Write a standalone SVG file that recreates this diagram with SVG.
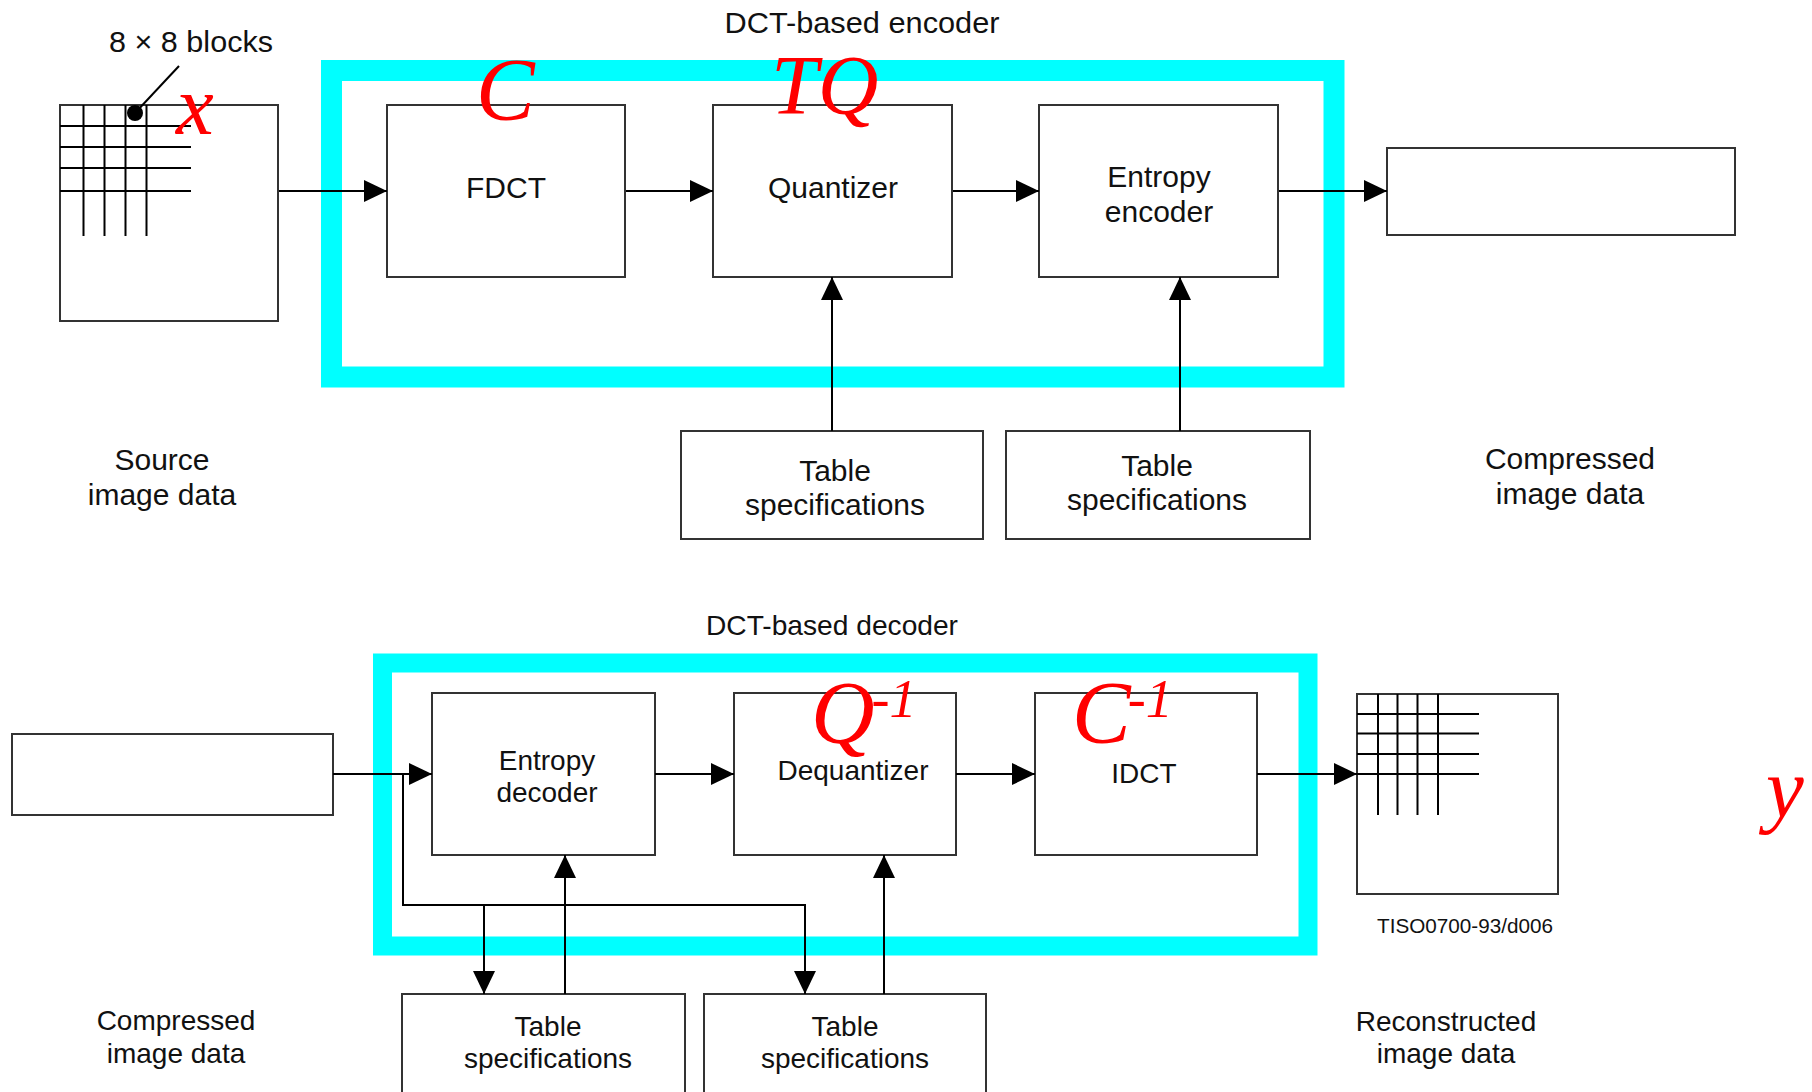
<svg xmlns="http://www.w3.org/2000/svg" width="1812" height="1092" viewBox="0 0 1812 1092">
<defs>
<marker id="ah" markerUnits="userSpaceOnUse" markerWidth="24" markerHeight="22" refX="23" refY="11" orient="auto">
<path d="M0,0 L23,11 L0,22 z" fill="#000"/>
</marker>
<style>
.box{fill:#fff;stroke:#333;stroke-width:2}
.grid{stroke:#000;stroke-width:2;fill:none}
.t{font-family:"Liberation Sans",Arial,sans-serif;fill:#111;text-anchor:middle}
.e{font-size:30px}
.d{font-size:28px}
.red{font-family:"Liberation Serif","Times New Roman",serif;font-style:italic;fill:#ff0000}
.frame{fill:none;stroke:#00ffff}
.conn{stroke:#000;stroke-width:2;fill:none}
</style>
</defs>
<rect width="1812" height="1092" fill="#fff"/>

<g id="encoder-frame">
<rect class="frame" x="331.5" y="70.5" width="1002.5" height="306.5" stroke-width="21"/>
<text class="t e" x="862" y="33" textLength="275" lengthAdjust="spacingAndGlyphs">DCT-based encoder</text>
</g>
<g id="decoder-frame">
<rect class="frame" x="382.5" y="663" width="925.5" height="283" stroke-width="19"/>
<text class="t d" x="832" y="635" textLength="252" lengthAdjust="spacingAndGlyphs">DCT-based decoder</text>
</g>

<g id="source">
<rect class="box" x="60" y="105" width="218" height="216"/>
<path class="grid" d="M83.5,105V236M104.5,105V236M125.5,105V236M146.5,105V236M60,126H191M60,147H191M60,168H191M60,191H191"/>
<circle cx="135" cy="113" r="8" fill="#000"/>
<text class="t e" x="191" y="52" textLength="164" lengthAdjust="spacingAndGlyphs">8 × 8 blocks</text>
<text class="t e" x="162" y="470">Source</text>
<text class="t e" x="162" y="505">image data</text>
<text class="red" x="176" y="134" font-size="85">x</text>
</g>

<g id="fdct">
<rect class="box" x="387" y="105" width="238" height="172"/>
<text class="t e" x="506" y="198">FDCT</text>
<text class="red" x="476" y="119" font-size="88">C</text>
</g>

<g id="quantizer">
<rect class="box" x="713" y="105" width="239" height="172"/>
<text class="t e" x="833" y="198">Quantizer</text>
<text class="red" x="771" y="114" font-size="84">TQ</text>
</g>

<g id="entropy-encoder">
<rect class="box" x="1039" y="105" width="239" height="172"/>
<text class="t e" x="1159" y="187">Entropy</text>
<text class="t e" x="1159" y="222">encoder</text>
</g>

<g id="compressed-out">
<rect class="box" x="1387" y="148" width="348" height="87"/>
<text class="t e" x="1570" y="469">Compressed</text>
<text class="t e" x="1570" y="504">image data</text>
</g>

<g id="enc-table1">
<rect class="box" x="681" y="431" width="302" height="108"/>
<text class="t e" x="835" y="481">Table</text>
<text class="t e" x="835" y="515">specifications</text>
</g>

<g id="enc-table2">
<rect class="box" x="1006" y="431" width="304" height="108"/>
<text class="t e" x="1157" y="476">Table</text>
<text class="t e" x="1157" y="510">specifications</text>
</g>

<g id="compressed-in">
<rect class="box" x="12" y="734" width="321" height="81"/>
<text class="t d" x="176" y="1030">Compressed</text>
<text class="t d" x="176" y="1063">image data</text>
</g>

<g id="entropy-decoder">
<rect class="box" x="432" y="693" width="223" height="162"/>
<text class="t d" x="547" y="770">Entropy</text>
<text class="t d" x="547" y="802">decoder</text>
</g>

<g id="dequantizer">
<rect class="box" x="734" y="693" width="222" height="162"/>
<text class="t d" x="853" y="780">Dequantizer</text>
<text class="red" x="811" y="742" font-size="88">Q<tspan font-size="54" dx="-3" dy="-25">-1</tspan></text>
</g>

<g id="idct">
<rect class="box" x="1035" y="693" width="222" height="162"/>
<text class="t d" x="1144" y="783">IDCT</text>
<text class="red" x="1072" y="742" font-size="88">C<tspan font-size="54" dx="-3" dy="-25">-1</tspan></text>
</g>

<g id="reconstructed">
<rect class="box" x="1357" y="694" width="201" height="200"/>
<path class="grid" d="M1378,694V815M1397.5,694V815M1417.5,694V815M1438,694V815M1357,714H1479M1357,733.5H1479M1357,754H1479M1357,774H1479"/>
<text x="1377" y="933" font-family="'Liberation Sans',Arial,sans-serif" font-size="20" fill="#111" textLength="176" lengthAdjust="spacingAndGlyphs">TISO0700-93/d006</text>
<text class="t d" x="1446" y="1031">Reconstructed</text>
<text class="t d" x="1446" y="1063">image data</text>
<text class="red" x="1766" y="817" font-size="85">y</text>
</g>

<g id="dec-table1">
<rect class="box" x="402" y="994" width="283" height="110"/>
<text class="t d" x="548" y="1036">Table</text>
<text class="t d" x="548" y="1068">specifications</text>
</g>

<g id="dec-table2">
<rect class="box" x="704" y="994" width="282" height="110"/>
<text class="t d" x="845" y="1036">Table</text>
<text class="t d" x="845" y="1068">specifications</text>
</g>

<g id="connectors">
<path class="conn" d="M135,113 L179,66"/>
<path class="conn" d="M279,191 H387" marker-end="url(#ah)"/>
<path class="conn" d="M626,191 H713" marker-end="url(#ah)"/>
<path class="conn" d="M953,191 H1039" marker-end="url(#ah)"/>
<path class="conn" d="M1279,191 H1387" marker-end="url(#ah)"/>
<path class="conn" d="M832,431 V277" marker-end="url(#ah)"/>
<path class="conn" d="M1180,431 V277" marker-end="url(#ah)"/>
<path class="conn" d="M333,774 H432" marker-end="url(#ah)"/>
<path class="conn" d="M655,774 H734" marker-end="url(#ah)"/>
<path class="conn" d="M956,774 H1035" marker-end="url(#ah)"/>
<path class="conn" d="M1257,774 H1357" marker-end="url(#ah)"/>
<path class="conn" d="M403,774 V905 H805 V994" marker-end="url(#ah)"/>
<path class="conn" d="M484,905 V994" marker-end="url(#ah)"/>
<path class="conn" d="M565,994 V855" marker-end="url(#ah)"/>
<path class="conn" d="M884,994 V855" marker-end="url(#ah)"/>
</g>
</svg>
